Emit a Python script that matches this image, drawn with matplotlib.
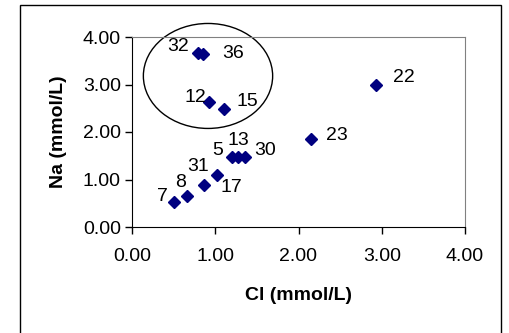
import matplotlib
matplotlib.use("Agg")
import matplotlib.pyplot as plt
from matplotlib.patches import Ellipse, Rectangle

plt.rcParams["font.family"] = ["Liberation Sans", "DejaVu Sans"]

# data
cl = [0.50, 0.66, 0.87, 1.02, 1.20, 1.27, 1.36, 2.15, 2.93, 0.79, 0.85, 0.92, 1.11]
na = [0.53, 0.65, 0.88, 1.09, 1.47, 1.47, 1.47, 1.85, 3.00, 3.67, 3.64, 2.63, 2.48]
labels = ["7", "8", "31", "17", "5", "13", "30", "23", "22", "32", "36", "12", "15"]

# label offsets in pixels (dx right, dy up), like Excel data labels moved by hand
offsets = {
    "7": (-11, 5), "8": (-6, 14), "31": (-6, 19), "17": (14, -12),
    "5": (-14, 7), "13": (1, 17), "30": (20, 7), "23": (26, 4),
    "22": (28, 7), "32": (-20, 6), "36": (30, 1), "12": (-13, 5), "15": (23, 8),
}

FS = 14

fig = plt.figure(figsize=(5.1, 3.33), dpi=100)

# outer chart frame (runs off the bottom of the picture)
fig.patches.append(Rectangle((20 / 510, -0.2), 481 / 510, 1.2 - 5 / 333,
                             transform=fig.transFigure, fill=False,
                             ec="black", lw=1.0))

ax = fig.add_axes([132 / 510, 106 / 333, 333 / 510, 190 / 333])

ax.plot(cl, na, ls="none", marker="D", ms=6, color="#000080")

for x, y, lab in zip(cl, na, labels):
    dx, dy = offsets[lab]
    ax.annotate(lab, (x, y), xytext=(dx, dy), textcoords="offset pixels",
                ha="center", va="center", fontsize=FS)

ax.add_patch(Ellipse((0.913, 3.18), 1.553, 2.21, fill=False, ec="black",
                     lw=1.0, clip_on=False))

ax.set_xlim(0, 4)
ax.set_ylim(0, 4)
ax.set_xticks([0, 1, 2, 3, 4])
ax.set_yticks([0, 1, 2, 3, 4])
ax.set_xticklabels([f"{v:.2f}" for v in ax.get_xticks()])
ax.set_yticklabels([f"{v:.2f}" for v in ax.get_yticks()])
ax.tick_params(axis="both", labelsize=FS, length=5, width=1, direction="out")
ax.tick_params(axis="x", pad=10)
ax.tick_params(axis="y", pad=3)

ax.spines["top"].set_color("#808080")
ax.spines["right"].set_color("#808080")
for s in ["left", "bottom"]:
    ax.spines[s].set_color("black")

ax.set_xlabel("Cl (mmol/L)", fontsize=FS, fontweight="bold", labelpad=16)
ax.set_ylabel("Na (mmol/L)", fontsize=FS, fontweight="bold", labelpad=11)

fig.savefig("out.png", dpi=100)
